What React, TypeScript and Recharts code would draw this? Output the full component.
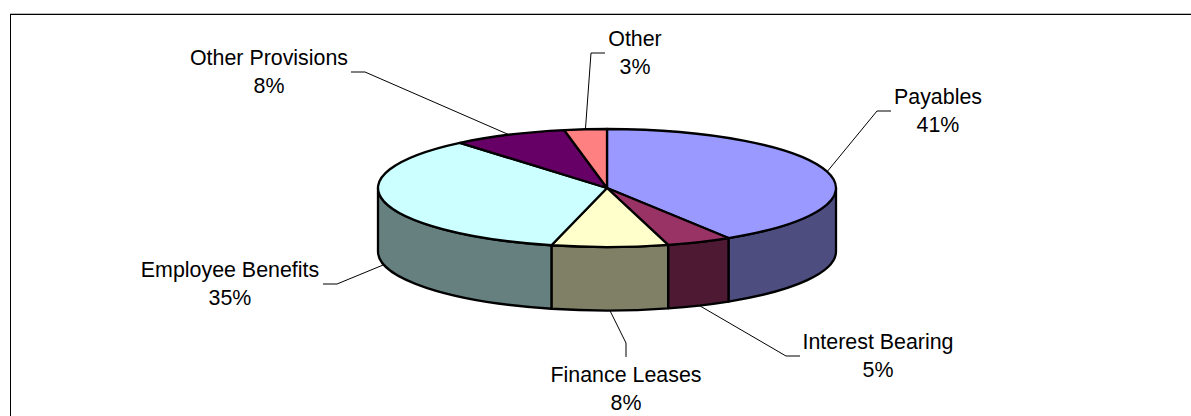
import React from 'react';
import { PieChart, Pie, Cell } from 'recharts';

const categories = ['Payables', 'Interest Bearing', 'Finance Leases', 'Employee Benefits', 'Other Provisions', 'Other'];
const shares = [41.1, 4.6, 8.2, 35.0, 8.1, 3.0];
const topColors = ['#9999FF', '#993366', '#FFFFCC', '#CCFFFF', '#660066', '#FF8080'];
const wallColors = ['#4D4D80', '#4D1933', '#808066', '#668080', '#330033', '#804040'];

// Label layout: elbow, end of leader, label centre, first baseline
const labelLayout = [
  { elbow: [877, 111], end: [891, 111], tx: 938, ty: 104 },
  { elbow: [786, 356], end: [800, 356], tx: 878, ty: 349 },
  { elbow: [626, 343], end: [626, 357], tx: 626, ty: 382 },
  { elbow: [337, 284], end: [323, 284], tx: 230, ty: 277 },
  { elbow: [365, 72], end: [351, 72], tx: 269, ty: 65 },
  { elbow: [591, 53], end: [605, 53], tx: 635, ty: 46 },
];

const CX = 607;
const CY = 188;
const RX = 229;
const RY = 59;
const DEPTH = 63.5;
const EDGE = 2.3;
const K = RY / RX;
const RAD = Math.PI / 180;
const px = (a: number, r: number) => CX + r * Math.cos(a * RAD);
const py = (a: number, r: number) => CY - r * K * Math.sin(a * RAD);

function Slab(props: any) {
  const { startAngle, endAngle, outerRadius, index } = props;
  const r = outerRadius;
  const ry = r * K;
  const large = startAngle - endAngle > 180 ? 1 : 0;
  const top = `M${CX},${CY} L${px(startAngle, r)},${py(startAngle, r)} A${r},${ry} 0 ${large} 1 ${px(endAngle, r)},${py(endAngle, r)} Z`;
  const a = Math.min(startAngle, 0);
  const b = Math.max(endAngle, -180);
  let wall = null;
  if (a > b) {
    const d = `M${px(a, r)},${py(a, r)} A${r},${ry} 0 0 1 ${px(b, r)},${py(b, r)} L${px(b, r)},${py(b, r) + DEPTH} A${r},${ry} 0 0 0 ${px(a, r)},${py(a, r) + DEPTH} Z`;
    wall = <path d={d} fill={wallColors[index]} stroke="#000" strokeWidth={EDGE} strokeLinejoin="round" />;
  }
  return (
    <g>
      {wall}
      <path d={top} fill={topColors[index]} stroke="#000" strokeWidth={EDGE} strokeLinejoin="round" />
    </g>
  );
}

function SliceLabel(props: any) {
  const { index, midAngle, percent, outerRadius } = props;
  const l = labelLayout[index];
  const r = outerRadius;
  const lower = Math.sin(midAngle * RAD) < 0;
  const sx = px(midAngle, r);
  const sy = py(midAngle, r) + (lower ? DEPTH : 0);
  return (
    <g>
      <polyline
        points={`${sx},${sy} ${l.elbow[0]},${l.elbow[1]} ${l.end[0]},${l.end[1]}`}
        fill="none"
        stroke="#000"
        strokeWidth={1}
      />
      <text x={l.tx} y={l.ty} textAnchor="middle" fontFamily="'Liberation Sans', Arial, sans-serif" fontSize={21.4} fill="#000">
        {categories[index]}
      </text>
      <text x={l.tx} y={l.ty + 27.7} textAnchor="middle" fontFamily="'Liberation Sans', Arial, sans-serif" fontSize={21.4} fill="#000">
        {`${Math.round(percent * 100)}%`}
      </text>
    </g>
  );
}

const rows = categories.map((name, i) => ({ name, value: shares[i] }));

export default function App() {
  return (
    <div style={{ position: 'relative', width: 1191, height: 416, overflow: 'hidden', background: '#fff' }}>
      <style>{`body{margin:0}`}</style>
      <div
        style={{
          position: 'absolute',
          left: 10,
          top: 14,
          right: 0,
          bottom: 0,
          borderTop: '1px solid #000',
          borderLeft: '1px solid #000',
          boxShadow: '0 -1px 0 #bbb',
        }}
      />
      <div style={{ position: 'absolute', left: 0, top: 0 }}>
        <PieChart width={1191} height={416} margin={{ top: 0, right: 0, bottom: 0, left: 0 }}>
          <Pie
            data={rows}
            dataKey="value"
            nameKey="name"
            cx={CX}
            cy={CY}
            innerRadius={0}
            outerRadius={RX}
            startAngle={90}
            endAngle={-270}
            isAnimationActive={false}
            shape={Slab}
            label={SliceLabel}
            labelLine={false}
          >
            {rows.map((r, i) => (
              <Cell key={r.name} fill={topColors[i]} />
            ))}
          </Pie>
        </PieChart>
      </div>
    </div>
  );
}
